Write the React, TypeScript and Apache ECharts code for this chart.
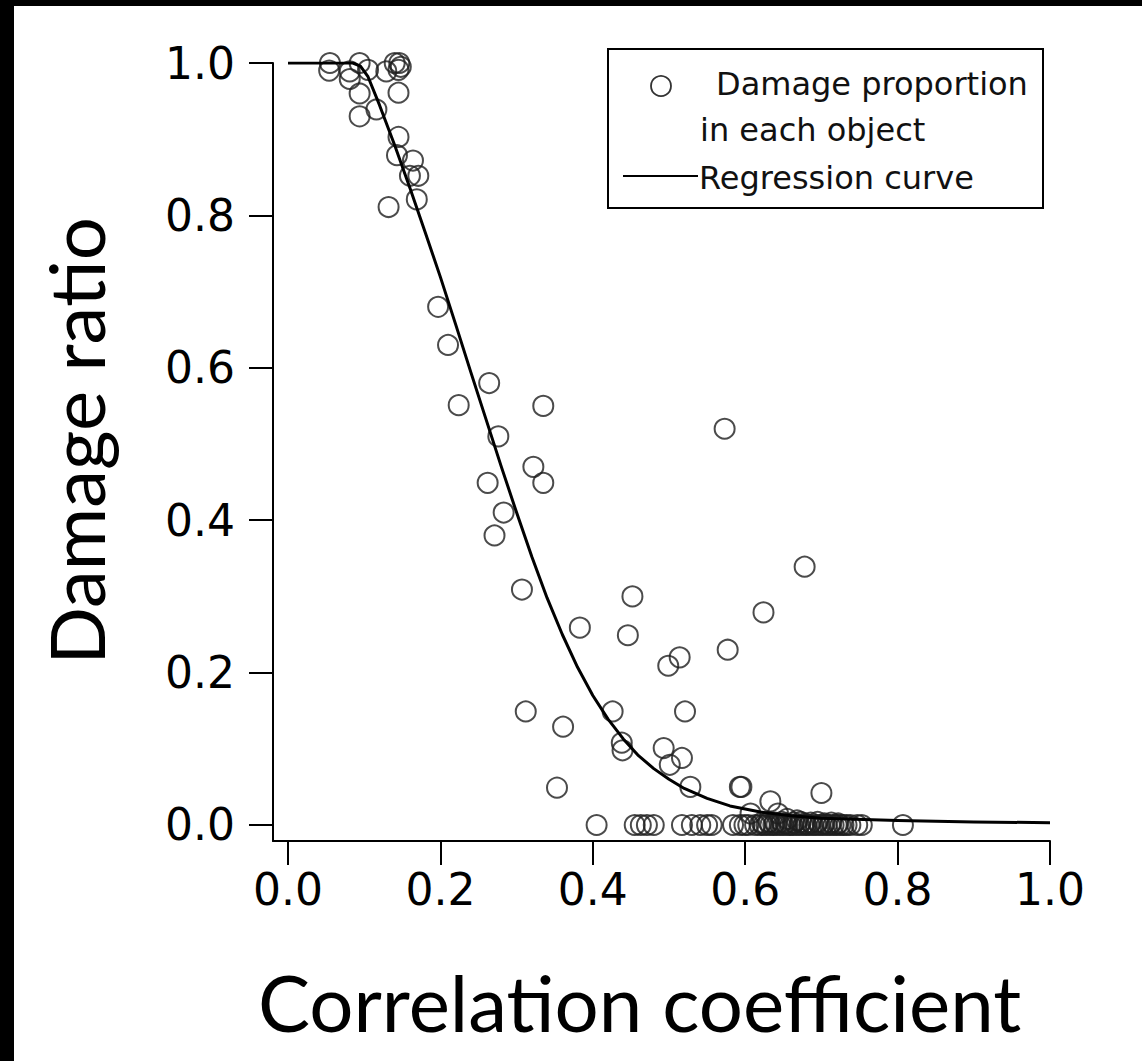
import React, { useEffect, useRef } from "react";
import * as echarts from "echarts";

// ---- data ----
const tickValues = [0, 0.2, 0.4, 0.6, 0.8, 1.0];

const xTitle = "Correlation coefficient";
const yTitle = "Damage ratio";
const legendPointLabel1 = "Damage proportion";
const legendPointLabel2 = "in each object";
const legendCurveLabel = "Regression curve";

// damage proportion in each object: [correlation coefficient, damage ratio]
const damagePoints: [number, number][] = [
  [0.055, 1.0], [0.054, 0.99], [0.094, 1.0], [0.081, 0.989], [0.081, 0.979],
  [0.105, 0.991], [0.129, 0.989], [0.14, 1.0], [0.146, 1.0], [0.148, 0.995],
  [0.145, 0.991], [0.094, 0.96], [0.116, 0.939], [0.094, 0.93], [0.145, 0.961],
  [0.145, 0.903], [0.143, 0.879], [0.164, 0.872], [0.16, 0.852], [0.171, 0.852],
  [0.169, 0.821], [0.132, 0.811],
  [0.197, 0.68], [0.21, 0.63], [0.264, 0.58], [0.224, 0.551], [0.335, 0.55],
  [0.276, 0.51], [0.322, 0.47], [0.335, 0.449], [0.262, 0.449], [0.283, 0.41],
  [0.271, 0.38], [0.307, 0.309],
  [0.573, 0.52], [0.678, 0.339], [0.452, 0.3], [0.624, 0.279], [0.383, 0.259],
  [0.446, 0.249], [0.577, 0.23], [0.514, 0.22], [0.499, 0.209],
  [0.312, 0.149], [0.426, 0.149], [0.521, 0.149], [0.361, 0.129],
  [0.438, 0.108], [0.439, 0.098], [0.493, 0.101], [0.517, 0.088], [0.501, 0.079],
  [0.353, 0.049], [0.528, 0.05], [0.593, 0.05], [0.595, 0.05], [0.7, 0.042],
  [0.633, 0.031], [0.643, 0.015], [0.607, 0.015], [0.655, 0.008], [0.668, 0.006],
  [0.405, 0.0], [0.455, 0.0], [0.463, 0.0], [0.471, 0.0], [0.48, 0.0],
  [0.517, 0.0], [0.53, 0.0], [0.541, 0.0], [0.55, 0.0], [0.556, 0.0],
  [0.584, 0.0], [0.593, 0.0], [0.599, 0.0], [0.604, 0.0], [0.613, 0.0],
  [0.619, 0.0], [0.622, 0.003], [0.624, 0.0], [0.628, 0.0], [0.631, 0.004], [0.633, 0.0],
  [0.637, 0.0], [0.639, 0.003], [0.641, 0.0], [0.646, 0.0], [0.648, 0.004], [0.65, 0.0],
  [0.653, 0.002], [0.655, 0.0], [0.659, 0.0], [0.662, 0.0], [0.664, 0.003], [0.667, 0.0],
  [0.671, 0.0], [0.673, 0.004], [0.676, 0.0], [0.678, 0.002], [0.68, 0.0], [0.684, 0.0],
  [0.686, 0.003], [0.689, 0.0], [0.693, 0.0], [0.695, 0.004], [0.698, 0.0], [0.702, 0.0],
  [0.704, 0.002], [0.707, 0.0], [0.711, 0.0], [0.713, 0.003], [0.716, 0.0], [0.72, 0.0],
  [0.722, 0.002], [0.725, 0.0], [0.729, 0.0], [0.733, 0.0], [0.738, 0.0], [0.747, 0.0],
  [0.753, 0.0],
  [0.807, 0.0],
];

// regression curve
const curveX = [0, 0.05, 0.085, 0.095, 0.105, 0.12, 0.14, 0.16, 0.18, 0.2, 0.22, 0.24, 0.26, 0.28, 0.3,
  0.32, 0.34, 0.36, 0.38, 0.4, 0.42, 0.44, 0.46, 0.48, 0.5, 0.52, 0.55, 0.58, 0.62, 0.66,
  0.7, 0.8, 0.9, 1.0];
const curveY = [1.0, 1.0, 1.0, 0.996, 0.982, 0.945, 0.892, 0.836, 0.778, 0.719, 0.657, 0.594, 0.532, 0.47, 0.41,
  0.352, 0.298, 0.25, 0.207, 0.17, 0.139, 0.113, 0.091, 0.074, 0.06, 0.048, 0.035, 0.025, 0.017, 0.012,
  0.009, 0.006, 0.004, 0.003];

export default function App() {
  const ref = useRef<HTMLDivElement>(null);

  useEffect(() => {
    document.body.style.margin = "0";
    if (!ref.current) return;
    const chart = echarts.init(ref.current, null, { renderer: "svg" });

    const labelFont = "DejaVu Sans";
    const titleFont = "Lato";
    const ink = "#000";

    chart.setOption({
      animation: false,
      backgroundColor: "#fff",
      grid: { left: 259, right: 92, top: 57, bottom: 220, containLabel: false },
      xAxis: {
        type: "value",
        min: -0.0197,
        max: 1,
        axisLine: { show: true, onZero: false, lineStyle: { color: ink, width: 2 } },
        axisTick: { show: true, length: 24, lineStyle: { color: ink, width: 2 }, customValues: tickValues },
        axisLabel: {
          customValues: tickValues,
          formatter: (v: number) => v.toFixed(1),
          margin: 26,
          fontSize: 44,
          fontFamily: labelFont,
          color: ink,
        },
        splitLine: { show: false },
        name: xTitle,
        nameLocation: "middle",
        nameGap: 122,
        nameTextStyle: { fontFamily: titleFont, fontSize: 78, color: ink, padding: [0, 44, 0, 0] },
      },
      yAxis: {
        type: "value",
        min: -0.021,
        max: 1,
        axisLine: { show: true, onZero: false, lineStyle: { color: ink, width: 2 } },
        axisTick: { show: true, length: 24, lineStyle: { color: ink, width: 2 }, customValues: tickValues },
        axisLabel: {
          customValues: tickValues,
          formatter: (v: number) => v.toFixed(1),
          margin: 38,
          fontSize: 44,
          fontFamily: labelFont,
          color: ink,
        },
        splitLine: { show: false },
        name: yTitle,
        nameLocation: "middle",
        nameGap: 160,
        nameTextStyle: { fontFamily: titleFont, fontSize: 76, color: ink, padding: [0, 0, 0, 22] },
      },
      series: [
        {
          name: legendPointLabel1 + " " + legendPointLabel2,
          type: "scatter",
          data: damagePoints,
          symbol: "circle",
          symbolSize: 20,
          itemStyle: { color: "rgba(0,0,0,0)", borderColor: "#1e1e1e", borderWidth: 2 },
          z: 2,
        },
        {
          name: legendCurveLabel,
          type: "line",
          data: curveX.map((x, i) => [x, curveY[i]]),
          showSymbol: false,
          symbol: "none",
          smooth: false,
          lineStyle: { color: ink, width: 3, join: "round" },
          z: 3,
        },
      ],
      graphic: [
        {
          type: "group",
          left: 593,
          top: 42,
          children: [
            { type: "rect", shape: { x: 0, y: 0, width: 435, height: 159 }, style: { fill: "#fff", stroke: ink, lineWidth: 2 } },
            { type: "circle", shape: { cx: 53, cy: 37, r: 10 }, style: { fill: "none", stroke: "#333", lineWidth: 1.8 } },
            { type: "text", style: { x: 108, y: 35, text: legendPointLabel1, font: `32px "${labelFont}"`, fill: "#111", verticalAlign: "middle" } },
            { type: "text", style: { x: 92, y: 81, text: legendPointLabel2, font: `32px "${labelFont}"`, fill: "#111", verticalAlign: "middle" } },
            { type: "line", shape: { x1: 15, y1: 127, x2: 90, y2: 127 }, style: { stroke: ink, lineWidth: 2 } },
            { type: "text", style: { x: 91, y: 129, text: legendCurveLabel, font: `32px "${labelFont}"`, fill: "#111", verticalAlign: "middle" } },
          ],
        },
      ],
    });

    return () => chart.dispose();
  }, []);

  return (
    <div style={{ width: 1142, height: 1061, background: "#000", position: "relative" }}>
      <div
        ref={ref}
        style={{ position: "absolute", left: 14, top: 6, width: 1128, height: 1055, background: "#fff" }}
      />
    </div>
  );
}
